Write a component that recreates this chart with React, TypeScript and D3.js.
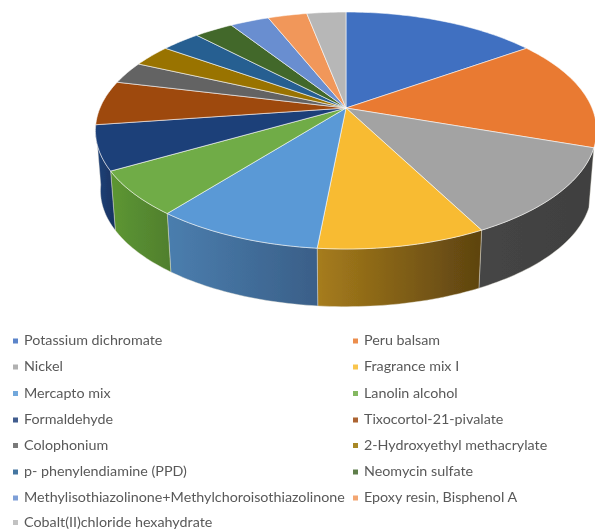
import { useMemo } from 'react'
import * as d3 from 'd3'

// Slice sizes come out at very nearly whole units of a 33-unit total.
const allergens = [
  'Potassium dichromate', 'Peru balsam', 'Nickel', 'Fragrance mix I', 'Mercapto mix',
  'Lanolin alcohol', 'Formaldehyde', 'Tixocortol-21-pivalate', 'Colophonium',
  '2-Hydroxyethyl methacrylate', 'p- phenylendiamine (PPD)', 'Neomycin sulfate',
  'Methylisothiazolinone+Methylchoroisothiazolinone', 'Epoxy resin, Bisphenol A',
  'Cobalt(II)chloride hexahydrate',
]
const counts = [5, 5, 4, 3, 3, 2, 2, 2, 1, 1, 1, 1, 1, 1, 1]
const topColors = [
  '#3f70c1', '#e97a30', '#a3a3a3', '#f8bb30', '#5a99d6', '#6fac46', '#1f4079', '#9e480e',
  '#636363', '#997300', '#255e91', '#43682b', '#698ed0', '#f1975a', '#b7b7b7',
]
// only these slices show a side wall, everything else faces away
const wallSlices = [2, 3, 4, 5, 6]
const wallLeft = ['#454545', '#a67c1c', '#4a7dad', '#5c9533', '#1f3f74']
const wallRight = ['#404040', '#5e4410', '#3a5f88', '#507f2d', '#173260']
const legendRowY = [341, 367, 393.5, 420, 445.5, 472, 498, 522.5]

const width = 595
const height = 530

// Perspective disc: hub sits above the middle of the ellipse
const hubX = 346
const hubY = 108
const scaleX = 246
const scaleY = 114.2
const tilt = 0.19
const wallShrink = 0.98
const wallDrop = 60.5

const project = (a: number): [number, number] => {
  const u = Math.sin(a)
  const v = -Math.cos(a)
  const w = 1 - tilt * v
  return [hubX + (scaleX * u) / w, hubY + (scaleY * v) / w]
}
const projectBase = (a: number): [number, number] => {
  const [x, y] = project(a)
  return [hubX + (x - hubX) * wallShrink, hubY + (y - hubY) * wallShrink + wallDrop]
}
const sampleAngles = (a0: number, a1: number) => {
  const n = Math.max(4, Math.ceil((a1 - a0) / 0.02))
  return d3.range(n + 1).map(i => a0 + ((a1 - a0) * i) / n)
}

export default function App() {
  const arcs = useMemo(
    () => d3.pie<number>().sort(null).value(d => d)(counts),
    [],
  )
  const line = d3.line()

  return (
    <svg
      width={width}
      height={height}
      viewBox={`0 0 ${width} ${height}`}
      style={{ position: 'absolute', left: 0, top: 0, background: '#fff' }}
    >
      <defs>
        <filter id="soft" x="-5%" y="-5%" width="110%" height="110%">
          <feGaussianBlur stdDeviation="0.35" />
        </filter>
        {wallSlices.map((s, i) => {
          const xs = sampleAngles(arcs[s].startAngle, arcs[s].endAngle).map(a => projectBase(a)[0])
          return (
            <linearGradient
              key={s}
              id={`wall${s}`}
              gradientUnits="userSpaceOnUse"
              x1={d3.min(xs)}
              x2={d3.max(xs)}
              y1={0}
              y2={0}
            >
              <stop offset="0" stopColor={wallLeft[i]} />
              <stop offset="1" stopColor={wallRight[i]} />
            </linearGradient>
          )
        })}
      </defs>

      <g filter="url(#soft)">
        {/* side wall first, the top face goes over it */}
        {wallSlices.map(s => {
          const as = sampleAngles(arcs[s].startAngle, arcs[s].endAngle)
          const pts = [...as.map(project), ...as.slice().reverse().map(projectBase)]
          return (
            <path
              key={s}
              d={line(pts) + 'Z'}
              fill={`url(#wall${s})`}
              stroke="#e8e4d8"
              strokeOpacity={0.6}
              strokeWidth={0.7}
            />
          )
        })}
        {/* top face */}
        {arcs.map((d, i) => {
          const pts = [[hubX, hubY] as [number, number], ...sampleAngles(d.startAngle, d.endAngle).map(project)]
          return (
            <path
              key={i}
              d={line(pts) + 'Z'}
              fill={topColors[i]}
              stroke="#fff"
              strokeOpacity={0.7}
              strokeWidth={0.8}
              strokeLinejoin="round"
            />
          )
        })}

        {/* legend, two columns filled row by row */}
        {allergens.map((name, i) => {
          const col = i % 2
          const y = legendRowY[Math.floor(i / 2)]
          const x = col === 0 ? 13 : 353
          return (
            <g key={name}>
              <rect x={x} y={y - 2.5} width={5} height={5} fill={topColors[i]} opacity={0.85} />
              <text
                x={x + 11}
                y={y + 4}
                fontFamily="Lato, 'Open Sans', sans-serif"
                fontSize={14.3}
                fill="#595959"
              >
                {name}
              </text>
            </g>
          )
        })}
      </g>
    </svg>
  )
}
